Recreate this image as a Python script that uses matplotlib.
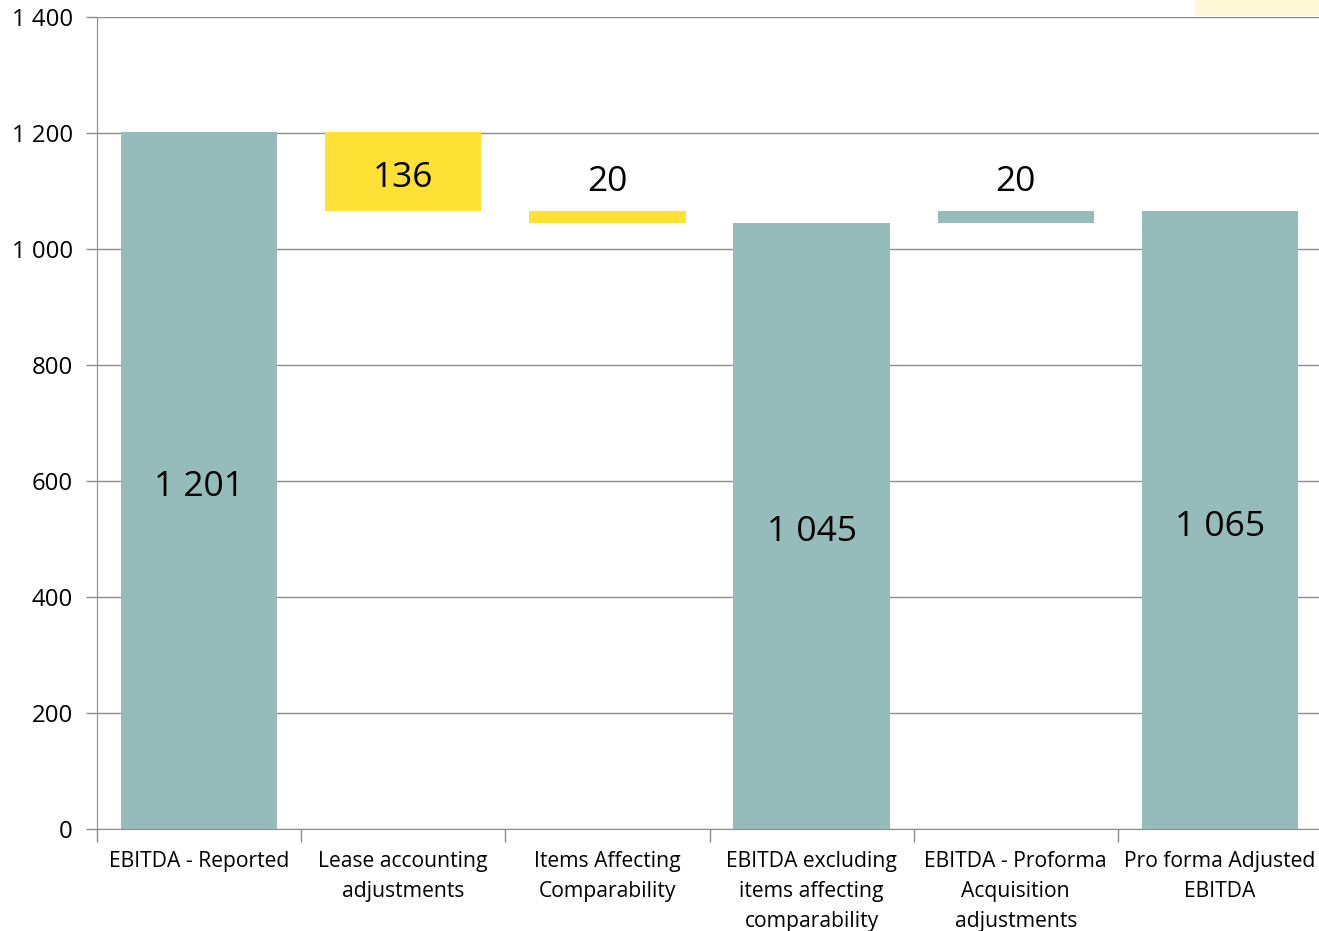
import numpy as np
import matplotlib.pyplot as plt
import matplotlib.patches as mpatches

plt.rcParams['font.family'] = ['Open Sans', 'DejaVu Sans']

categories = ['EBITDA - Reported', 'Lease accounting\nadjustments',
              'Items Affecting\nComparability', 'EBITDA excluding\nitems affecting\ncomparability',
              'EBITDA - Proforma\nAcquisition\nadjustments', 'Pro forma Adjusted\nEBITDA']
values = [1201, -136, -20, 1045, 20, 1065]
is_total = [True, False, False, True, False, True]

teal = '#95bbba'
yellow = '#ffe135'

def fmt(v):
    return f"{abs(v):,}".replace(",", " ")

# waterfall bottoms
bottoms, heights, colors = [], [], []
run = 0
for v, t in zip(values, is_total):
    if t:
        bottoms.append(0)
        heights.append(v)
        colors.append(teal)
        run = v
    else:
        if v < 0:
            bottoms.append(run + v)
            colors.append(yellow)
        else:
            bottoms.append(run)
            colors.append(teal)
        heights.append(abs(v))
        run += v

fig = plt.figure(figsize=(13.19, 9.31), dpi=100)
ax = fig.add_axes([97/1319, 102/931, (1322 - 97)/1319, 812/931])

x = np.arange(len(categories))
ax.bar(x, heights, bottom=bottoms, width=0.765, color=colors, zorder=3)

for xi, b, h, v in zip(x, bottoms, heights, values):
    if h > 60:
        ax.text(xi, b + h / 2 - 11, fmt(v), ha='center', va='center', fontsize=25.5, zorder=4)
    else:
        ax.text(xi, b + h + 50, fmt(v), ha='center', va='center', fontsize=25.5, zorder=4)

ax.set_xlim(-0.5, len(categories) - 0.5)
ax.set_ylim(0, 1400)
ax.set_yticks(range(0, 1401, 200))
ax.set_yticklabels([fmt(t) for t in range(0, 1401, 200)], fontsize=17.3)
ax.yaxis.grid(True, color='#8c8c8c', linewidth=1.0, zorder=0)

ax.set_xticks(x)
ax.set_xticklabels(categories, fontsize=15.2, linespacing=1.57)
ax.tick_params(axis='x', length=0, pad=16)
ax.set_xticks(np.arange(-0.5, len(categories) - 0.5, 1), minor=True)
ax.tick_params(axis='x', which='minor', length=9, color='#8c8c8c', width=1)
ax.tick_params(axis='y', length=8, color='#8c8c8c', width=1, pad=9.5)

for s in ['top', 'right']:
    ax.spines[s].set_visible(False)
ax.spines['left'].set_color('#8c8c8c')
ax.spines['bottom'].set_color('#8c8c8c')

# pale yellow patch in the top-right corner
fig.patches.append(mpatches.Rectangle((1195/1319, 916/931), 124/1319, 15/931,
                                      transform=fig.transFigure, color='#fff7d6', zorder=0))

fig.savefig('out.png', dpi=100)
